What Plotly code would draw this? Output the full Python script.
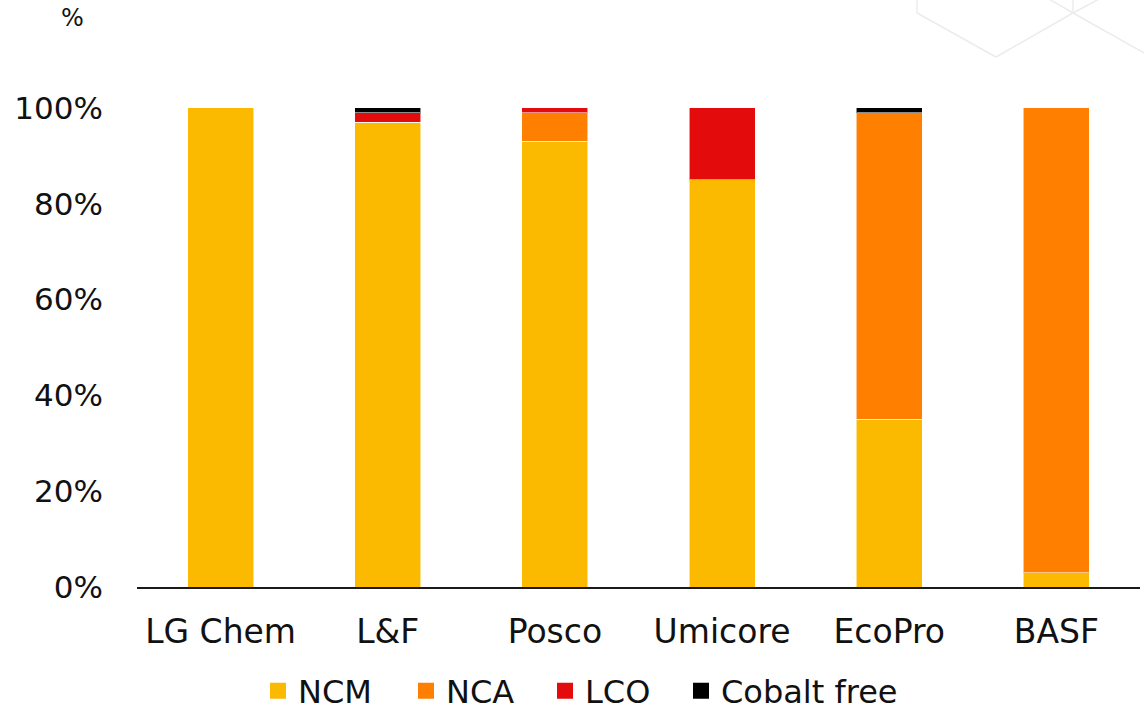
import plotly.graph_objects as go

# Cathode material mix by producer (share of output)
companies = ["LG Chem", "L&F", "Posco", "Umicore", "EcoPro", "BASF"]
ncm = [1.00, 0.97, 0.93, 0.85, 0.35, 0.03]
nca = [0.00, 0.00, 0.06, 0.00, 0.64, 0.97]
lco = [0.00, 0.02, 0.01, 0.15, 0.00, 0.00]
cobalt_free = [0.00, 0.01, 0.00, 0.00, 0.01, 0.00]
y_ticks = [0, 0.2, 0.4, 0.6, 0.8, 1.0]

series = [
    ("NCM", ncm, "#FBBA00"),
    ("NCA", nca, "#FF7F00"),
    ("LCO", lco, "#E30B0B"),
    ("Cobalt free", cobalt_free, "#000000"),
]
# horizontal room given to each legend entry's label
legend_widths = [103, 94, 91, 200]

W, H = 1144, 713
ML, MR, MT, MB = 137, 4, 12, 126

fig = go.Figure()
for name, vals, color in series:
    fig.add_trace(go.Bar(
        x=companies, y=vals, name=name, showlegend=False,
        marker=dict(color=color, line=dict(color="rgba(255,255,255,0.55)", width=1)),
    ))

# square legend keys
for (name, vals, color), lw in zip(series, legend_widths):
    fig.add_trace(go.Scatter(
        x=[None], y=[None], name=name, mode="markers", legendwidth=lw,
        marker=dict(symbol="square", size=19, color=color),
    ))

tick_font = dict(family="DejaVu Sans", size=31, color="#111111")
cat_font = dict(family="DejaVu Sans", size=33, color="#111111")

fig.update_layout(
    width=W, height=H,
    barmode="stack", bargap=0.605,
    plot_bgcolor="white", paper_bgcolor="white",
    margin=dict(l=ML, r=MR, t=MT, b=MB),
    showlegend=True,
    legend=dict(
        orientation="h", xref="container", yref="container",
        x=258 / W, xanchor="left", y=(H - 691) / H, yanchor="middle",
        font=dict(family="DejaVu Sans", size=32, color="#111111"),
        itemsizing="trace", traceorder="normal",
        bgcolor="rgba(0,0,0,0)",
    ),
    xaxis=dict(
        showgrid=False, showline=True, linecolor="#1a1a1a", linewidth=2,
        tickfont=cat_font, ticks="", ticklabelstandoff=14, automargin=False,
    ),
    yaxis=dict(
        range=[0, 1.2], tickvals=y_ticks, tickformat=".0%",
        showgrid=False, showline=False, zeroline=False,
        tickfont=tick_font, ticks="", ticklabelstandoff=33, automargin=False,
    ),
)

# unit label above the value axis
fig.add_annotation(
    text="%", xref="paper", yref="paper",
    x=(72 - ML) / (W - ML - MR), y=(H - MB - 18) / (H - MT - MB),
    xanchor="center", yanchor="middle", showarrow=False,
    font=dict(family="DejaVu Sans", size=24, color="#111111"),
)

# faint hexagon outline decoration in the top-right corner
pw, ph = W - ML - MR, H - MT - MB


def to_paper(px, py):
    return (px - ML) / pw, (H - MB - py) / ph


hex_segments = [
    ((917, -2), (917, 13)),
    ((917, 13), (996, 57)),
    ((996, 57), (1073, 13)),
    ((1073, 13), (1073, -2)),
    ((1073, 13), (1146, 54)),
    ((1073, 13), (1049, -1)),
    ((1073, 13), (1099, -1)),
]
for (x0, y0), (x1, y1) in hex_segments:
    a0, b0 = to_paper(x0, y0)
    a1, b1 = to_paper(x1, y1)
    fig.add_shape(type="line", xref="paper", yref="paper",
                  x0=a0, y0=b0, x1=a1, y1=b1,
                  line=dict(color="#ECECEC", width=1.5), layer="below")

fig.write_html("out.html")
